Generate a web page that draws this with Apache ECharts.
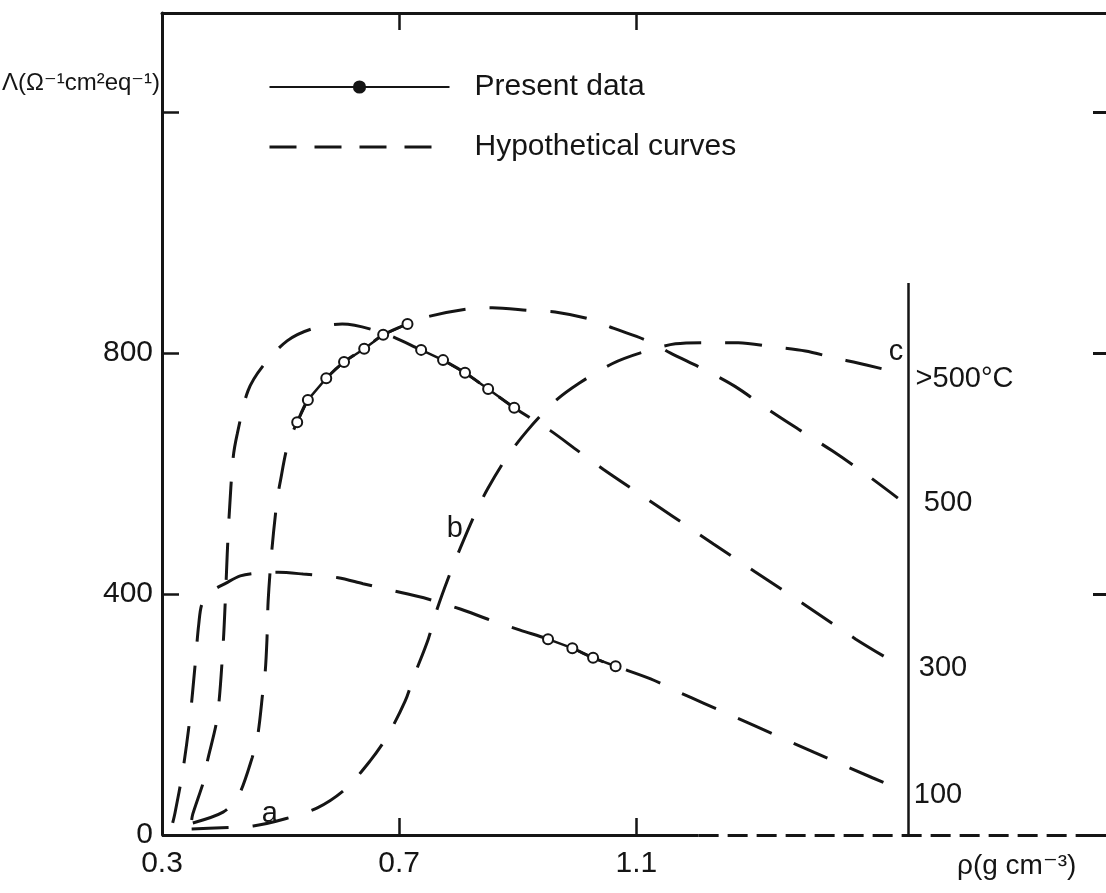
<!DOCTYPE html>
<html><head><meta charset="utf-8">
<script src="https://cdn.jsdelivr.net/npm/echarts@6/dist/echarts.min.js"></script>
<style>html,body{margin:0;padding:0;background:#fff}#c{width:1106px;height:893px}</style>
</head><body><div id="c"></div><script>
// ---- data ----
const xTickValues = [0.3, 0.7, 1.1];
const yTickValues = [0, 400, 800];
const presentRising = [[0.528,685],[0.546,722],[0.577,758],[0.607,785],[0.641,807],[0.673,830],[0.714,848]];
const presentFalling = [[0.737,805],[0.774,788],[0.811,767],[0.850,740],[0.894,709]];
const presentLow = [[0.951,325],[0.992,310],[1.027,294],[1.065,280]];
const curve100 = [[0.318,20],[0.322,37],[0.335,106],[0.347,193],[0.356,284],[0.362,350],[0.368,385],[0.385,405],[0.408,418],[0.432,430],[0.466,435],[0.496,436],[0.538,433],[0.597,427],[0.639,417],[0.705,402],[0.747,392],[0.803,375],[0.850,358],[0.904,340],[0.951,325],[0.992,310],[1.027,294],[1.065,280],[1.124,259],[1.174,236],[1.213,219],[1.300,181],[1.400,137],[1.498,95],[1.546,75]];
const curve300 = [[0.350,25],[0.352,35],[0.373,98],[0.376,120],[0.393,194],[0.403,314],[0.408,418],[0.410,466],[0.413,526],[0.420,626],[0.427,666],[0.445,737],[0.470,778],[0.511,820],[0.553,840],[0.604,848],[0.673,833],[0.737,805],[0.774,788],[0.811,767],[0.850,740],[0.894,709],[0.955,671],[1.002,637],[1.044,607],[1.110,563],[1.161,529],[1.230,483],[1.300,437],[1.390,378],[1.470,325],[1.551,277]];
const curve500 = [[0.352,20],[0.403,38],[0.428,63],[0.452,128],[0.462,169],[0.470,237],[0.474,270],[0.477,324],[0.479,388],[0.485,470],[0.494,555],[0.499,584],[0.512,647],[0.528,685],[0.546,722],[0.577,758],[0.607,785],[0.641,807],[0.673,830],[0.714,848],[0.752,861],[0.816,873],[0.857,875],[0.924,870],[0.963,868],[1.022,856],[1.061,841],[1.119,820],[1.157,800],[1.215,772],[1.267,744],[1.321,707],[1.377,671],[1.431,637],[1.488,598],[1.541,559]];
const curveC = [[0.350,10],[0.401,12],[0.454,15],[0.508,27],[0.562,45],[0.609,76],[0.651,123],[0.680,164],[0.710,222],[0.724,261],[0.749,325],[0.764,375],[0.783,427],[0.803,476],[0.828,533],[0.849,574],[0.881,626],[0.916,671],[0.963,720],[1.004,750],[1.059,782],[1.107,800],[1.166,815],[1.216,817],[1.272,817],[1.331,810],[1.385,803],[1.433,792],[1.488,780],[1.549,765]];
const tempAxisX = 1.559, tempAxisTop = 916, baseSolidEnd = 1.205;
const xMin = 0.3, xMax = 1.892, yMax = 1364;

const FONT = "'Liberation Sans', 'DejaVu Sans', sans-serif";
const INK = '#151515';
const dash = [37, 24];

function hypo(data, endText, dist, offY, extra) {
  return Object.assign({
    name: 'Hypothetical curves', type: 'line', data: data, smooth: 0.3,
    symbol: 'none', silent: true, z: 2,
    lineStyle: { color: INK, width: 3, type: dash },
    itemStyle: { color: INK },
    endLabel: { show: true, formatter: endText, fontSize: 29, fontFamily: FONT, color: INK,
                distance: dist, offset: [0, offY] }
  }, extra || {});
}
function present(data) {
  return {
    name: 'Present data', type: 'line', data: data, smooth: false, z: 5,
    symbol: 'circle', symbolSize: 10, silent: true,
    lineStyle: { color: INK, width: 2.5, type: 'solid' },
    itemStyle: { color: '#fff', borderColor: INK, borderWidth: 2 }
  };
}
const letter = (t, c) => ({ coord: c, symbol: 'circle', symbolSize: 0,
  label: { show: true, formatter: t, fontSize: 29, fontFamily: FONT, color: INK } });

const chart = echarts.init(document.getElementById('c'));
chart.setOption({
  animation: false,
  backgroundColor: '#fff',
  grid: { left: 162, right: 0, top: 13, bottom: 58, outerBoundsMode: 'none', containLabel: false },
  legend: {
    orient: 'vertical', left: 263, top: 64, itemWidth: 180, itemHeight: 14, itemGap: 24,
    textStyle: { fontSize: 30, fontFamily: FONT, color: INK, padding: [0, 0, 0, 20], lineHeight: 36 },
    data: [
      { name: 'Present data', itemStyle: { color: INK, borderColor: INK } },
      { name: 'Hypothetical curves', itemStyle: { opacity: 0 }, lineStyle: { type: [27, 18], width: 3, color: INK } }
    ]
  },
  xAxis: [{
    type: 'value', min: xMin, max: xMax, position: 'bottom',
    axisLine: { show: false, onZero: false },
    axisTick: { show: true, inside: true, length: 17, customValues: [0.7, 1.1], lineStyle: { color: INK, width: 2.5 } },
    axisLabel: { customValues: xTickValues, fontSize: 30, fontFamily: FONT, color: INK, margin: 14 },
    splitLine: { show: false }
  }, {
    type: 'value', min: xMin, max: xMax, position: 'top',
    axisLine: { show: true, onZero: false, lineStyle: { color: INK, width: 3 } },
    axisTick: { show: true, inside: true, length: 17, customValues: [0.7, 1.1], lineStyle: { color: INK, width: 2.5 } },
    axisLabel: { show: false }, splitLine: { show: false }
  }],
  yAxis: [{
    type: 'value', min: 0, max: yMax, interval: 400, position: 'left',
    name: 'Λ(Ω⁻¹cm²eq⁻¹)', nameLocation: 'end', nameGap: -70,
    nameTextStyle: { fontSize: 24, fontFamily: FONT, color: INK, align: 'right', verticalAlign: 'middle', padding: [0, 2, 0, 0] },
    axisLine: { show: true, onZero: false, lineStyle: { color: INK, width: 3 } },
    axisTick: { show: true, inside: true, length: 17, lineStyle: { color: INK, width: 2.5 } },
    axisLabel: { customValues: yTickValues, fontSize: 30, fontFamily: FONT, color: INK, margin: 9 },
    splitLine: { show: false }
  }, {
    type: 'value', min: 0, max: yMax, interval: 400, position: 'right',
    axisLine: { show: false, onZero: false },
    axisTick: { show: true, inside: true, length: 13, lineStyle: { color: INK, width: 3 } },
    axisLabel: { show: false }, splitLine: { show: false }
  }],
  graphic: [{
    type: 'text', left: 957, top: 852,
    style: { text: 'ρ(g cm⁻³)', fontSize: 28, fontFamily: FONT, fill: INK }
  }],
  series: [
    hypo(curve100, '100', 13, 5, {
      markLine: {
        silent: true, symbol: ['none', 'none'], label: { show: false },
        data: [
          [{ coord: [xMin, 0], lineStyle: { color: INK, width: 3, type: 'solid' } }, { coord: [baseSolidEnd, 0] }],
          [{ coord: [baseSolidEnd, 0], lineStyle: { color: INK, width: 3, type: [20, 9] } }, { coord: [xMax, 0] }],
          [{ coord: [tempAxisX, 0], lineStyle: { color: INK, width: 2.5, type: 'solid' } }, { coord: [tempAxisX, tempAxisTop] }]
        ]
      }
    }),
    hypo(curve300, '300', 15, 0),
    hypo(curve500, '500', 26, 5, { markPoint: { silent: true, data: [letter('b', [0.794, 508])] } }),
    hypo(curveC, '>500°C', 13, 5, { markPoint: { silent: true, data: [letter('a', [0.482, 35]), letter('c', [1.538, 802])] } }),
    present(presentRising),
    present(presentFalling),
    present(presentLow)
  ]
});
</script></body></html>
